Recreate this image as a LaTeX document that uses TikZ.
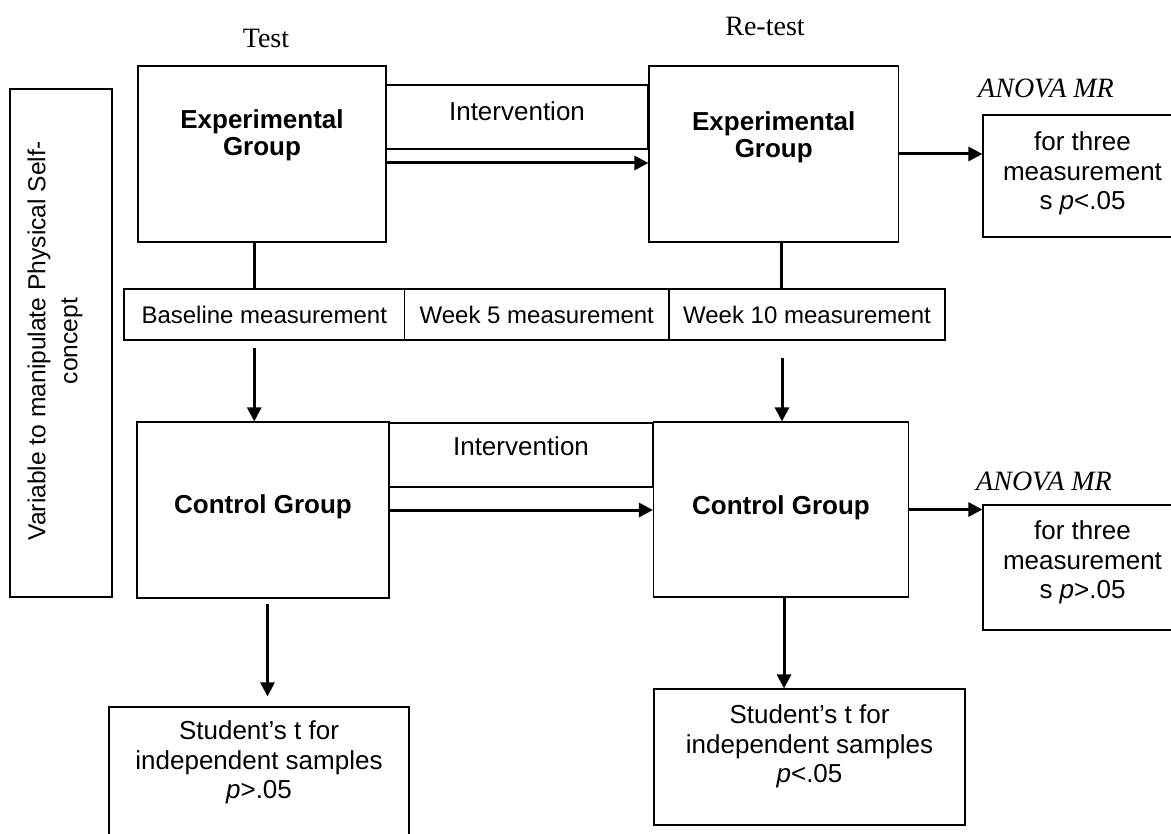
\documentclass[tikz,border=0pt]{standalone}
\usepackage{fontspec}
\setmainfont{Liberation Sans}
\newfontfamily\timesfont{Liberation Serif}
\usepackage{tikz}
\usetikzlibrary{positioning, arrows.meta}
\tikzstyle{box} = [rectangle, draw=black, line width=0.6pt]
\tikzstyle{cell} = [rectangle, draw=black, line width=0.6pt, outer sep=0pt, minimum height=25.5pt, text centered, font=\fontsize{12}{14.5}\selectfont]
\tikzstyle{txt} = [inner sep=0pt, align=center, font=\fontsize{13}{14.75}\selectfont]
\tikzstyle{grptxt} = [inner sep=0pt, align=center, font=\fontsize{13}{13.5}\selectfont\bfseries]
\tikzstyle{title} = [font=\timesfont\fontsize{14}{16}\selectfont]
\tikzstyle{stat} = [font=\timesfont\itshape\fontsize{14}{16}\selectfont]
\tikzstyle{line} = [line width=1.5pt]
\tikzstyle{arrow} = [line width=1.5pt,-{Triangle[length=7pt,width=7pt]}]

\begin{document}
\begin{tikzpicture}[x=0.5pt,y=-0.5pt]
		\useasboundingbox (0,0) rectangle (1171,834);
		\node (test) [title] at (266,38) {Test};
		\node (retest) [title] at (765,26) {Re-test};
		\node (var) [box, minimum width=51pt, minimum height=254pt] at (61,343) {};
		\node (vartxt) [txt, rotate=90, font=\fontsize{12.3}{16}\selectfont] at (55,341) {Variable to manipulate Physical Self-\\concept};
		\node (int1) [box, minimum width=131pt, minimum height=32pt] at (517,117) {};
		\node (int1t) [txt, below=8.5pt of int1.north] {Intervention};
		\node (int2) [box, minimum width=132pt, minimum height=32pt] at (521,455) {};
		\node (int2t) [txt, below=7pt of int2.north] {Intervention};
		\node (eg1) [box, minimum width=124pt, minimum height=88pt] at (262,154) {};
		\node (eg1t) [grptxt, below=22pt of eg1.north] {Experimental\\Group};
		\node (eg2) [box, minimum width=124.75pt, minimum height=88pt] at (773.75,154) {};
		\node (eg2t) [grptxt, below=23pt of eg2.north] {Experimental\\Group};
		\node (cg1) [box, minimum width=126pt, minimum height=88pt] at (263,510) {};
		\node (cg1t) [grptxt, below=36.5pt of cg1.north] {Control Group};
		\node (cg2) [box, minimum width=127.5pt, minimum height=87.5pt] at (781,509.5) {};
		\node (cg2t) [grptxt, below=37pt of cg2.north] {Control Group};
		\node (base) [cell, minimum width=140.25pt] at (264.25,314.5) {Baseline measurement};
		\node (wk5) [cell, minimum width=132.25pt, right=0pt of base] {Week 5 measurement};
		\node (wk10) [cell, minimum width=138pt, right=0pt of wk5] {Week 10 measurement};
		\node (mr1) [stat] at (1046,88) {ANOVA MR};
		\node (anova1) [box, minimum width=99.5pt, minimum height=61pt] at (1082.5,176) {};
		\node (anova1t) [txt, below=8.5pt of anova1.north] {for three\\measurement\\s \textit{p}<.05};
		\node (mr2) [stat] at (1044,481) {ANOVA MR};
		\node (anova2) [box, minimum width=99.5pt, minimum height=62.5pt] at (1082.5,567.5) {};
		\node (anova2t) [txt, below=8pt of anova2.north] {for three\\measurement\\s \textit{p}>.05};
		\node (stud1) [box, minimum width=150pt, minimum height=69pt] at (259,776) {};
		\node (stud1t) [txt, below=7pt of stud1.north] {Student’s t for\\independent samples\\\textit{p}>.05};
		\node (stud2) [box, minimum width=155.5pt, minimum height=68pt] at (809.5,757) {};
		\node (stud2t) [txt, below=8pt of stud2.north] {Student’s t for\\independent samples\\\textit{p}<.05};
		\draw [line]([xshift=-4pt]eg1.south) -- ([xshift=-4pt]eg1.south |- base.north);
		\draw [line]([xshift=4pt]eg2.south) -- ([xshift=4pt]eg2.south |- wk10.north);
		\draw [arrow]([xshift=-5pt,yshift=-4pt]base.south) -- ([xshift=-5pt]base.south |- cg1.north);
		\draw [arrow]([xshift=-12.5pt,yshift=-9pt]wk10.south) -- ([xshift=-12.5pt]wk10.south |- cg2.north);
		\draw [arrow]([yshift=-4.5pt]eg1.east) -- ([yshift=-4.5pt]eg1.east -| eg2.west);
		\draw [arrow](cg1.east) -- (cg1.east -| cg2.west);
		\draw [arrow](eg2.east) -- (eg2.east -| anova1.west);
		\draw [arrow](cg2.east) -- (cg2.east -| anova2.west);
		\draw [arrow]([xshift=2.25pt,yshift=-2.5pt]cg1.south) -- ([xshift=2.25pt,yshift=5pt]cg1.south |- stud1.north);
		\draw [arrow]([xshift=1.5pt]cg2.south) -- ([xshift=1.5pt]cg2.south |- stud2.north);
	\end{tikzpicture}
\end{document}
